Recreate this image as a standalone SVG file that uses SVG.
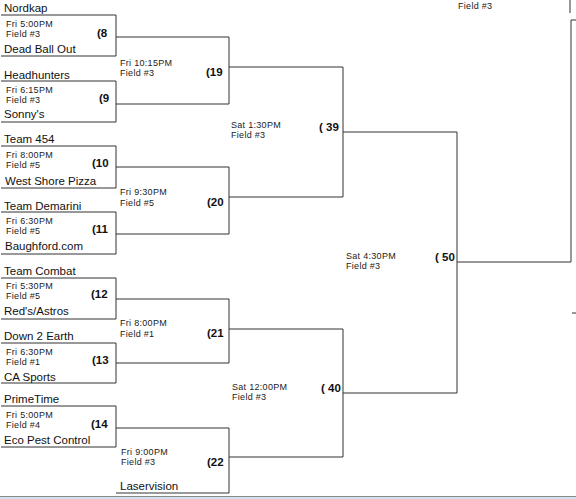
<svg xmlns="http://www.w3.org/2000/svg" width="576" height="499" viewBox="0 0 576 499">
<style>
  .ln{fill:none;stroke:#333;stroke-width:1}
  .tm{font-family:"Liberation Sans",Arial,sans-serif;font-size:11.5px;fill:#111}
  .sm{font-family:"Liberation Sans",Arial,sans-serif;font-size:9px;letter-spacing:0.3px;fill:#222}
  .gn{font-family:"Liberation Sans",Arial,sans-serif;font-size:11.5px;font-weight:bold;fill:#111}
</style>
<rect width="576" height="499" fill="#fff"/>
<g id="connectors" class="ln">
  <path d="M116,37 H229 V104 H116"/>
  <path d="M229,67 H343"/>
  <path d="M116,167 H229 V234 H116"/>
  <path d="M229,197 H343"/>
  <path d="M343,67 V197"/>
  <path d="M343,132 H457"/>
  <path d="M116,299 H229 V363 H116"/>
  <path d="M229,329 H343"/>
  <path d="M116,428 H229 V493 H116"/>
  <path d="M229,457 H343"/>
  <path d="M343,329 V457"/>
  <path d="M343,393 H457"/>
  <path d="M457,132 V393"/>
  <path d="M457,262 H571 V20 H576"/>
  <path d="M570,0 V13"/>
  <path d="M572,313 H576"/>
</g>
<g id="game8">
  <path class="ln" d="M1,15 H116 V56 H1"/>
  <text class="tm" x="4" y="12">Nordkap</text>
  <text class="sm" x="6" y="27">Fri 5:00PM</text>
  <text class="sm" x="6" y="37">Field #3</text>
  <text class="gn" x="97" y="37">(8</text>
  <text class="tm" x="4" y="53">Dead Ball Out</text>
</g>
<g id="game9">
  <path class="ln" d="M1,81 H116 V122 H1"/>
  <text class="tm" x="4" y="78.5">Headhunters</text>
  <text class="sm" x="6" y="93">Fri 6:15PM</text>
  <text class="sm" x="6" y="103">Field #3</text>
  <text class="gn" x="99" y="102">(9</text>
  <text class="tm" x="4" y="118">Sonny's</text>
</g>
<g id="game10">
  <path class="ln" d="M1,146 H116 V188 H1"/>
  <text class="tm" x="4" y="143">Team 454</text>
  <text class="sm" x="6" y="157.5">Fri 8:00PM</text>
  <text class="sm" x="6" y="167.5">Field #5</text>
  <text class="gn" x="92" y="167">(10</text>
  <text class="tm" x="5" y="185">West Shore Pizza</text>
</g>
<g id="game11">
  <path class="ln" d="M1,212 H116 V254 H1"/>
  <text class="tm" x="4" y="210">Team Demarini</text>
  <text class="sm" x="6" y="223.5">Fri 6:30PM</text>
  <text class="sm" x="6" y="233.5">Field #5</text>
  <text class="gn" x="92" y="233">(11</text>
  <text class="tm" x="5" y="250">Baughford.com</text>
</g>
<g id="game12">
  <path class="ln" d="M1,278 H116 V319 H1"/>
  <text class="tm" x="4" y="275">Team Combat</text>
  <text class="sm" x="6" y="288.5">Fri 5:30PM</text>
  <text class="sm" x="6" y="298.5">Field #5</text>
  <text class="gn" x="91" y="298">(12</text>
  <text class="tm" x="4" y="315">Red's/Astros</text>
</g>
<g id="game13">
  <path class="ln" d="M1,343 H116 V383 H1"/>
  <text class="tm" x="4" y="340">Down 2 Earth</text>
  <text class="sm" x="6" y="354.5">Fri 6:30PM</text>
  <text class="sm" x="6" y="364.5">Field #1</text>
  <text class="gn" x="92" y="364">(13</text>
  <text class="tm" x="4" y="381">CA Sports</text>
</g>
<g id="game14">
  <path class="ln" d="M1,406 H116 V447 H1"/>
  <text class="tm" x="4" y="403">PrimeTime</text>
  <text class="sm" x="6" y="417.5">Fri 5:00PM</text>
  <text class="sm" x="6" y="427.5">Field #4</text>
  <text class="gn" x="91" y="428">(14</text>
  <text class="tm" x="4" y="444">Eco Pest Control</text>
</g>
<g id="game19">
  <text class="sm" x="120" y="66">Fri 10:15PM</text>
  <text class="sm" x="120" y="76">Field #3</text>
  <text class="gn" x="206" y="76">(19</text>
</g>
<g id="game20">
  <text class="sm" x="120" y="195">Fri 9:30PM</text>
  <text class="sm" x="120" y="206">Field #5</text>
  <text class="gn" x="207" y="206">(20</text>
</g>
<g id="game21">
  <text class="sm" x="120" y="326">Fri 8:00PM</text>
  <text class="sm" x="120" y="337">Field #1</text>
  <text class="gn" x="207" y="337">(21</text>
</g>
<g id="game22">
  <text class="sm" x="121" y="455">Fri 9:00PM</text>
  <text class="sm" x="121" y="465">Field #3</text>
  <text class="gn" x="207" y="466">(22</text>
  <text class="tm" x="120" y="490">Laservision</text>
</g>
<g id="game39">
  <text class="sm" x="231" y="128">Sat 1:30PM</text>
  <text class="sm" x="231" y="138">Field #3</text>
  <text class="gn" x="319" y="131">( 39</text>
</g>
<g id="game40">
  <text class="sm" x="232" y="389.5">Sat 12:00PM</text>
  <text class="sm" x="232" y="399.5">Field #3</text>
  <text class="gn" x="321" y="392">( 40</text>
</g>
<g id="game50">
  <text class="sm" x="346" y="258.5">Sat 4:30PM</text>
  <text class="sm" x="346" y="268.5">Field #3</text>
  <text class="gn" x="435" y="261">( 50</text>
</g>
<g id="final">
  <text class="sm" x="458" y="8.5">Field #3</text>
</g>
<g id="bottom-band">
  <rect x="0" y="496" width="576" height="3" fill="#cfe0ee"/>
  <path d="M0,496.5 H576" stroke="#8a8a8a" stroke-width="1"/>
</g>
</svg>
